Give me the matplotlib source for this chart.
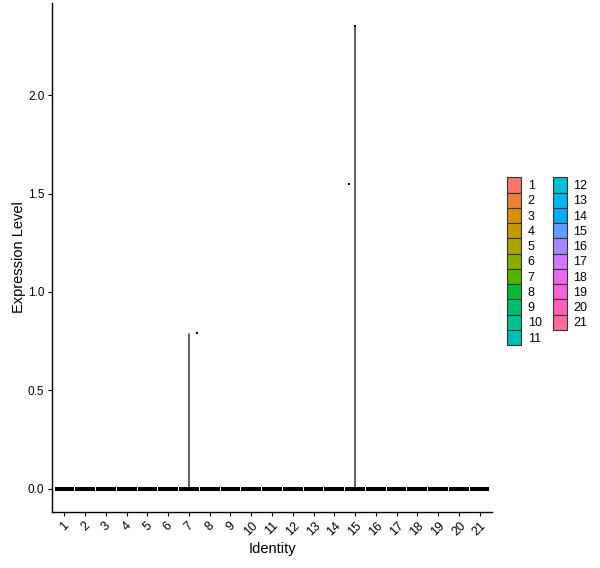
import numpy as np
import matplotlib
matplotlib.use("Agg")
import matplotlib.pyplot as plt
import matplotlib.patches as mpatches

plt.rcParams['font.family'] = ['Liberation Sans', 'DejaVu Sans']

# clusters and the non-zero expression values per cluster (all other cells are 0)
clusters = [str(i) for i in range(1, 22)]
nonzero_cluster = ['7', '15', '15']
nonzero_value = [0.79, 2.35, 1.55]
nonzero_jitter = [0.38, 0.0, -0.31]
y_ticks = [0.0, 0.5, 1.0, 1.5, 2.0]


def hue_pal(n, l=65, c=100):
    # ggplot2 default discrete palette (HCL -> sRGB)
    hues = np.linspace(15, 375, n + 1)[:-1]
    un, vn = 0.1978398, 0.4683363
    out = []
    for h in hues:
        u = c * np.cos(np.radians(h))
        v = c * np.sin(np.radians(h))
        Y = ((l + 16) / 116) ** 3
        up = u / (13 * l) + un
        vp = v / (13 * l) + vn
        X = 9 * Y * up / (4 * vp)
        Z = -X / 3 - 5 * Y + 3 * Y / vp
        rgb = np.array([[3.240479, -1.537150, -0.498535],
                        [-0.969256, 1.875992, 0.041556],
                        [0.055648, -0.204043, 1.057311]]) @ np.array([X, Y, Z])
        rgb = np.where(rgb <= 0.0031308, 12.92 * rgb, 1.055 * np.clip(rgb, 0, None) ** (1 / 2.4) - 0.055)
        out.append(tuple(np.clip(rgb, 0, 1)))
    return out


colors = hue_pal(len(clusters))

fig = plt.figure(figsize=(6, 5.68), dpi=100)
ax = fig.add_axes([52 / 600, 56 / 568, 440 / 600, 509 / 568])

for i, (cl, col) in enumerate(zip(clusters, colors)):
    x = i + 1
    vals = [v for c, v in zip(nonzero_cluster, nonzero_value) if c == cl]
    top = max(vals) if vals else 0.0
    # flat violin: wide at 0, thin spike up to the max value
    xs = [x - 0.45, x, x, x, x + 0.45]
    ys = [0, 0.002, top, 0.002, 0]
    ax.fill(xs, ys, facecolor=col, edgecolor='#222222', lw=0.5, zorder=2)
    # cells at zero, jittered
    jit = np.linspace(-0.38, 0.38, 60)
    ax.scatter(x + jit, np.zeros_like(jit), s=5.5, color='black', marker='s', lw=0, zorder=3)

for cl, v, j in zip(nonzero_cluster, nonzero_value, nonzero_jitter):
    ax.scatter(clusters.index(cl) + 1 + j, v, s=4, color='black', marker='s', lw=0, zorder=3)

ax.set_xlim(0.4, len(clusters) + 0.6)
ax.set_ylim(-0.1175, 2.4675)
ax.set_xticks(range(1, len(clusters) + 1))
ax.set_xticklabels(clusters, rotation=45, ha='center', fontsize=9)
ax.set_yticks(y_ticks)
ax.set_yticklabels([f"{t:.1f}" for t in y_ticks], fontsize=8.5)
ax.tick_params(length=3, width=0.8, pad=2.5, color='black', labelcolor='black')
for s in ['top', 'right']:
    ax.spines[s].set_visible(False)
for s in ['left', 'bottom']:
    ax.spines[s].set_linewidth(1.0)
ax.set_xlabel("Identity", fontsize=10.5, labelpad=3)
ax.set_ylabel("Expression Level", fontsize=10.5, labelpad=1)

handles = [mpatches.Patch(facecolor=c, edgecolor='#333333', lw=0.8, label=l) for c, l in zip(colors, clusters)]
fig.legend(handles=handles, loc='center left', bbox_to_anchor=(507 / 600, 0.54), ncol=2, frameon=False,
           fontsize=9, handlelength=1.1, handleheight=1.5, handletextpad=0.55, columnspacing=0.9,
           labelspacing=0.0, borderaxespad=0, borderpad=0)

fig.savefig("out.png", dpi=100)
